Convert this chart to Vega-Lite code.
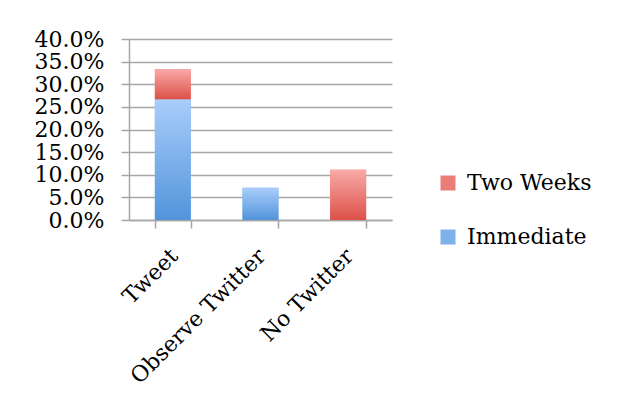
{
  "$schema": "https://vega.github.io/schema/vega-lite/v6.json",
  "width": 263,
  "height": 181,
  "autosize": {"type": "none"},
  "padding": {"left": 129, "top": 39, "right": 236, "bottom": 186},
  "background": "white",
  "data": {
    "values": [
      {"group": "Tweet", "series": "Immediate", "value": 0.267},
      {"group": "Tweet", "series": "Two Weeks", "value": 0.066},
      {"group": "Observe Twitter", "series": "Immediate", "value": 0.071},
      {"group": "Observe Twitter", "series": "Two Weeks", "value": 0},
      {"group": "No Twitter", "series": "Immediate", "value": 0},
      {"group": "No Twitter", "series": "Two Weeks", "value": 0.111}
    ]
  },
  "encoding": {
    "x": {
      "field": "group",
      "type": "nominal",
      "sort": ["Tweet", "Observe Twitter", "No Twitter"],
      "scale": {"paddingInner": 0.59, "paddingOuter": 0.295},
      "axis": {
        "title": null,
        "labelAngle": -45,
        "labelLimit": 0,
        "labelOffset": -6,
        "tickBand": "extent",
        "grid": false,
        "tickSize": 8,
        "tickColor": "#a6a6a6",
        "tickWidth": 1.5,
        "domainColor": "#a6a6a6",
        "domainWidth": 1.5,
        "labelFont": "DejaVu Serif",
        "labelFontSize": 22,
        "labelColor": "#000000",
        "labelPadding": 17
      }
    },
    "y": {
      "field": "value",
      "type": "quantitative",
      "stack": "zero",
      "scale": {"domain": [0, 0.4], "nice": false},
      "axis": {
        "title": null,
        "values": [0, 0.05, 0.1, 0.15, 0.2, 0.25, 0.3, 0.35, 0.4],
        "format": ".1%",
        "grid": true,
        "gridColor": "#a6a6a6",
        "gridWidth": 1.5,
        "tickSize": 8,
        "tickColor": "#a6a6a6",
        "tickWidth": 1.5,
        "domainColor": "#a6a6a6",
        "domainWidth": 1.5,
        "labelFont": "DejaVu Serif",
        "labelFontSize": 22,
        "labelColor": "#000000",
        "labelPadding": 17,
        "labelBaseline": "middle"
      }
    },
    "order": {"field": "series", "sort": "ascending"}
  },
  "layer": [
    {
      "mark": {"type": "bar"},
      "encoding": {
        "color": {
          "field": "series",
          "type": "nominal",
          "scale": {"domain": ["Two Weeks", "Immediate"], "range": ["#eb7d77", "#7cb1ea"]},
          "legend": {
            "title": null,
            "orient": "none",
            "legendX": 308,
            "legendY": 133,
            "symbolType": "square",
            "symbolSize": 225,
            "symbolStrokeWidth": 0,
            "labelFont": "DejaVu Serif",
            "labelFontSize": 22,
            "labelColor": "#000000",
            "labelOffset": 8,
            "rowPadding": 32,
            "encode": {
              "symbols": {
                "enter": {
                  "fill": [
                    {"test": "datum.value === 'Immediate'", "value": {"gradient": "linear", "x1": 0, "y1": 0, "x2": 0, "y2": 1, "stops": [{"offset": 0, "color": "#a9cdfb"}, {"offset": 1, "color": "#5294da"}]}},
                    {"value": {"gradient": "linear", "x1": 0, "y1": 0, "x2": 0, "y2": 1, "stops": [{"offset": 0, "color": "#f9aaa7"}, {"offset": 1, "color": "#dc5148"}]}}
                  ]
                },
                "update": {
                  "fill": [
                    {"test": "datum.value === 'Immediate'", "value": {"gradient": "linear", "x1": 0, "y1": 0, "x2": 0, "y2": 1, "stops": [{"offset": 0, "color": "#a9cdfb"}, {"offset": 1, "color": "#5294da"}]}},
                    {"value": {"gradient": "linear", "x1": 0, "y1": 0, "x2": 0, "y2": 1, "stops": [{"offset": 0, "color": "#f9aaa7"}, {"offset": 1, "color": "#dc5148"}]}}
                  ]
                }
              }
            }
          }
        }
      }
    },
    {
      "mark": {"type": "bar"},
      "encoding": {
        "detail": {"field": "series", "type": "nominal"},
        "fill": {
          "condition": {
            "test": "datum.series === 'Immediate'",
            "value": {"gradient": "linear", "x1": 0, "y1": 0, "x2": 0, "y2": 1, "stops": [{"offset": 0, "color": "#a9cdfb"}, {"offset": 1, "color": "#5294da"}]}
          },
          "value": {"gradient": "linear", "x1": 0, "y1": 0, "x2": 0, "y2": 1, "stops": [{"offset": 0, "color": "#f9aaa7"}, {"offset": 1, "color": "#dc5148"}]}
        }
      }
    }
  ],
  "config": {
    "view": {"stroke": null}
  }
}
